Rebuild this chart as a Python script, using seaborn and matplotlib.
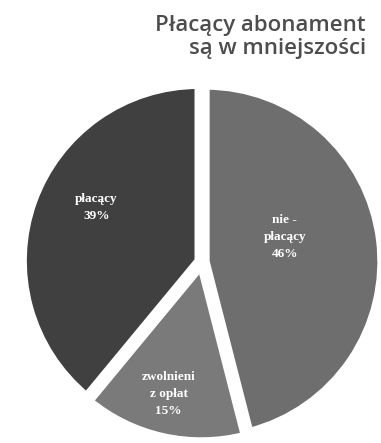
import matplotlib
matplotlib.use("Agg")
import matplotlib.pyplot as plt
import seaborn as sns

# === Data ===
categories = ["nie -\npłacący", "zwolnieni\nz opłat", "płacący"]
shares = [46, 15, 39]
colors = ["#6e6e6e", "#7a7a7a", "#404040"]
title = "Płacący abonament\nsą w mniejszości"

# label positions inside wedges (fraction of radius)
label_pos = [(0.47, 0.14), (-0.19, -0.75), (-0.60, 0.31)]

sns.set_style("white")
plt.rcParams["font.family"] = ["Open Sans", "DejaVu Sans"]

fig = plt.figure(figsize=(3.81, 4.43), dpi=100)
ax = fig.add_axes([26 / 381, 5 / 443, 352 / 381, 352 / 443])

wedges, _ = ax.pie(
    shares,
    colors=colors,
    startangle=90,
    counterclock=False,
    explode=[0.02, 0.02, 0.02],
    wedgeprops={"edgecolor": "white", "linewidth": 6},
)
ax.set_xlim(-1, 1)
ax.set_ylim(-1, 1)
ax.set_aspect("equal")
ax.axis("off")

for (x, y), cat, val in zip(label_pos, categories, shares):
    ax.text(x, y, f"{cat}\n{val}%", ha="center", va="center",
            color="white", fontsize=9.5, fontweight="bold",
            family="Liberation Serif", linespacing=1.55)

fig.text(366 / 381, 1 - 15 / 443, title, ha="right", va="top",
         fontsize=16, fontweight="semibold", color="#4d4d4d",
         linespacing=1.1)

fig.savefig("out.png", dpi=100)
